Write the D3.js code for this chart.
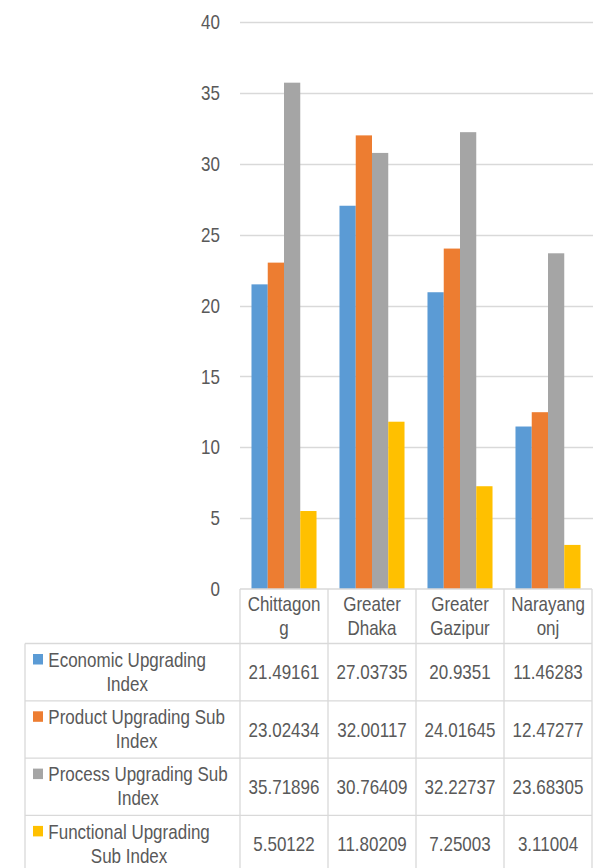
<!DOCTYPE html>
<html>
<head>
<meta charset="utf-8">
<script src="https://cdn.jsdelivr.net/npm/d3@7/dist/d3.min.js"></script>
<style>
  html, body { margin: 0; padding: 0; background: #fff; }
  svg { display: block; }
  text { font-family: "Liberation Sans", Arial, sans-serif; fill: #595959; }
</style>
</head>
<body>
<svg id="chart" width="597" height="868"></svg>
<script>
// Regions (columns) and their wrapped header labels
const categories = ["Chittagong", "Greater Dhaka", "Greater Gazipur", "Narayangonj"];
const categoryLines = [["Chittagon", "g"], ["Greater", "Dhaka"], ["Greater", "Gazipur"], ["Narayang", "onj"]];

// Index series
const seriesNames = [
  "Economic Upgrading Index",
  "Product Upgrading Sub Index",
  "Process Upgrading Sub Index",
  "Functional Upgrading Sub Index"
];
const seriesLines = [
  ["Economic Upgrading", "Index"],
  ["Product Upgrading Sub", "Index"],
  ["Process Upgrading Sub", "Index"],
  ["Functional Upgrading", "Sub Index"]
];
const seriesColors = ["#5B9BD5", "#ED7D31", "#A5A5A5", "#FFC000"];

const economic   = [21.49161, 27.03735, 20.9351, 11.46283];
const product    = [23.02434, 32.00117, 24.01645, 12.47277];
const process    = [35.71896, 30.76409, 32.22737, 23.68305];
const functional = [5.50122, 11.80209, 7.25003, 3.11004];
const seriesValues = [economic, product, process, functional];

const yTicks = [0, 5, 10, 15, 20, 25, 30, 35, 40];

// Layout
const plotLeft = 240, plotRight = 592, plotTop = 22, plotBottom = 589;
const headerBottom = 643.5, rowH = 57.3, legendLeft = 25;
const fontSize = 17, stretch = 1.2;
const gridColor = "#D9D9D9";

const svg = d3.select("#chart");

const y = d3.scaleLinear().domain([0, 40]).range([plotBottom, plotTop]);
const x0 = d3.scaleBand().domain(categories).range([plotLeft, plotRight])
  .paddingInner(0.261).paddingOuter(0.1305);
const x1 = d3.scaleBand().domain(seriesNames).range([0, x0.bandwidth()]).padding(0);

// Text helper: vertically stretched label centred on (cx, cy)
function label(g, str, cx, cy, anchor) {
  return g.append("text")
    .attr("transform", `translate(${cx},${cy}) scale(1,${stretch})`)
    .attr("dy", "0.35em")
    .attr("text-anchor", anchor || "middle")
    .style("font-size", fontSize + "px")
    .text(str);
}

// Gridlines
const grid = svg.append("g");
grid.selectAll("line").data(yTicks.filter(d => d > 0)).join("line")
  .attr("x1", plotLeft).attr("x2", plotRight + 1)
  .attr("y1", d => Math.round(y(d)) + 0.5).attr("y2", d => Math.round(y(d)) + 0.5)
  .attr("stroke", gridColor).attr("stroke-width", 1.3);

// Y tick labels
const yLab = svg.append("g");
yTicks.forEach(t => label(yLab, String(t), 220, y(t), "end"));

// Bars
const bars = svg.append("g");
categories.forEach((c, ci) => {
  seriesNames.forEach((s, si) => {
    const v = seriesValues[si][ci];
    bars.append("rect")
      .attr("x", x0(c) + x1(s))
      .attr("y", y(v))
      .attr("width", x1.bandwidth())
      .attr("height", y(0) - y(v))
      .attr("fill", seriesColors[si]);
  });
});

// Data table grid
const tbl = svg.append("g").attr("stroke", gridColor).attr("stroke-width", 1.3);
const tableBottom = headerBottom + rowH * seriesNames.length;
tbl.append("line").attr("x1", plotLeft).attr("x2", plotRight).attr("y1", plotBottom).attr("y2", plotBottom);
for (let r = 0; r <= seriesNames.length; r++) {
  const yy = headerBottom + r * rowH;
  tbl.append("line").attr("x1", legendLeft).attr("x2", plotRight).attr("y1", yy).attr("y2", yy);
}
tbl.append("line").attr("x1", legendLeft).attr("x2", legendLeft).attr("y1", headerBottom).attr("y2", tableBottom);
const colEdges = [plotLeft].concat(categories.map(c => x0(c) + x0.bandwidth() + x0.step() * 0.1305));
colEdges[colEdges.length - 1] = plotRight;
colEdges.forEach(cx => {
  tbl.append("line").attr("x1", cx).attr("x2", cx).attr("y1", plotBottom).attr("y2", tableBottom);
});

// Header (category names)
const head = svg.append("g");
categories.forEach((c, ci) => {
  const cx = x0(c) + x0.bandwidth() / 2;
  label(head, categoryLines[ci][0], cx, 604);
  label(head, categoryLines[ci][1], cx, 628);
});

// Legend keys, series names and values
const body = svg.append("g");
seriesNames.forEach((s, si) => {
  const top = headerBottom + si * rowH;
  const l1y = top + 16, l2y = top + 40;
  body.append("rect")
    .attr("x", 33).attr("y", l1y - 5.5).attr("width", 10).attr("height", 10.5)
    .attr("fill", seriesColors[si]);
  const t1 = label(body, seriesLines[si][0], 48.3, l1y, "start");
  const w = t1.node().getComputedTextLength();
  label(body, seriesLines[si][1], 48.3 + w / 2, l2y);
  categories.forEach((c, ci) => {
    const cx = x0(c) + x0.bandwidth() / 2;
    label(body, String(seriesValues[si][ci]), cx, top + rowH / 2);
  });
});
</script>
</body>
</html>
